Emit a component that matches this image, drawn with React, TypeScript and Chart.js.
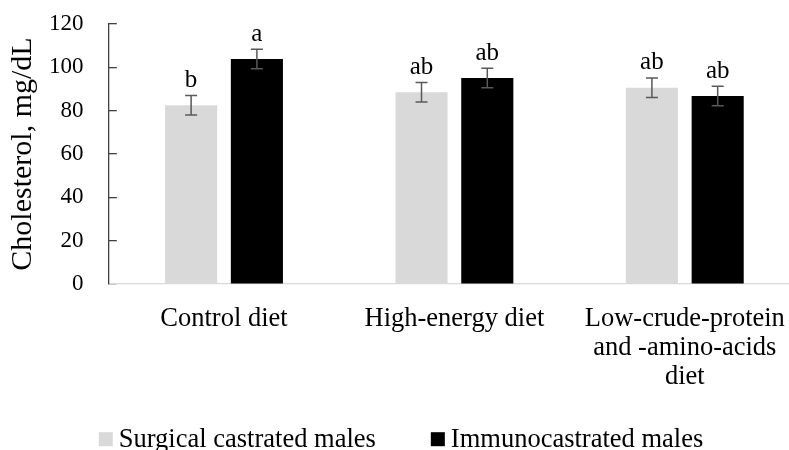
import React, { useEffect, useRef } from "react";
import { Chart, registerables } from "chart.js";

Chart.register(...registerables);

const categories = [
  ["Control diet"],
  ["High-energy diet"],
  ["Low-crude-protein", "and -amino-acids", "diet"],
];
const seriesNames = ["Surgical castrated males", "Immunocastrated males"];
const surgical = [82.5, 88.5, 90.6];
const immuno = [103.8, 95.1, 86.8];
const surgicalErr = [4.5, 4.5, 4.5];
const immunoErr = [4.5, 4.5, 4.5];
const surgicalLetters = ["b", "ab", "ab"];
const immunoLetters = ["a", "ab", "ab"];
const yMin = 0;
const yMax = 120;
const yStep = 20;
const colors = ["#d9d9d9", "#000000"];

const FONT = "'Liberation Serif', 'Times New Roman', serif";

const errs = [surgicalErr, immunoErr];
const letters = [surgicalLetters, immunoLetters];

const errorBarPlugin = {
  id: "errorBars",
  afterDatasetsDraw(chart: any) {
    const ctx = chart.ctx;
    const y = chart.scales.y;
    ctx.save();
    chart.data.datasets.forEach((ds: any, i: number) => {
      const meta = chart.getDatasetMeta(i);
      meta.data.forEach((bar: any, j: number) => {
        const v = ds.data[j];
        const e = errs[i][j];
        const yTop = y.getPixelForValue(v + e);
        const yBot = y.getPixelForValue(v - e);
        const x = bar.x;
        ctx.strokeStyle = "#595959";
        ctx.lineWidth = 1.5;
        ctx.beginPath();
        ctx.moveTo(x, yTop);
        ctx.lineTo(x, yBot);
        ctx.moveTo(x - 6, yTop);
        ctx.lineTo(x + 6, yTop);
        ctx.moveTo(x - 6, yBot);
        ctx.lineTo(x + 6, yBot);
        ctx.stroke();
        ctx.fillStyle = "#000";
        ctx.font = `25px ${FONT}`;
        ctx.textAlign = "center";
        ctx.textBaseline = "alphabetic";
        ctx.fillText(letters[i][j], x, yTop - 8.5);
      });
    });
    ctx.restore();
  },
};

const legendPlugin = {
  id: "customLegend",
  afterDraw(chart: any) {
    const ctx = chart.ctx;
    ctx.save();
    ctx.font = `26.5px ${FONT}`;
    const box = 14;
    const boxGap = 6;
    const itemGap = 55;
    const widths = chart.data.datasets.map((ds: any) => ctx.measureText(ds.label).width);
    const total =
      widths.reduce((a: number, w: number) => a + box + boxGap + w, 0) + itemGap * (widths.length - 1);
    const centerX = 401;
    const baseline = chart.height - 3.3;
    let x = centerX - total / 2;
    chart.data.datasets.forEach((ds: any, i: number) => {
      ctx.fillStyle = ds.backgroundColor;
      ctx.fillRect(x, baseline - 14.5, box, box);
      ctx.fillStyle = "#000";
      ctx.textAlign = "left";
      ctx.textBaseline = "alphabetic";
      ctx.fillText(ds.label, x + box + boxGap, baseline);
      x += box + boxGap + widths[i] + itemGap;
    });
    ctx.restore();
  },
};

export default function App() {
  const ref = useRef<HTMLCanvasElement | null>(null);
  useEffect(() => {
    if (!ref.current) return;
    const chart = new Chart(ref.current, {
      type: "bar",
      data: {
        labels: categories,
        datasets: [
          {
            label: seriesNames[0],
            data: surgical,
            backgroundColor: colors[0],
            categoryPercentage: 0.571,
            barPercentage: 0.792,
          },
          {
            label: seriesNames[1],
            data: immuno,
            backgroundColor: colors[1],
            categoryPercentage: 0.571,
            barPercentage: 0.792,
          },
        ],
      },
      options: {
        responsive: false,
        animation: false,
        layout: { padding: { top: 24, right: 0, bottom: 37, left: 0 } },
        plugins: {
          legend: { display: false },
          tooltip: { enabled: false },
        },
        scales: {
          x: {
            afterFit: (scale: any) => {
              scale.paddingLeft = 0;
              scale.paddingRight = 0;
            },
            grid: { display: false, drawTicks: false },
            border: { display: true, color: "#d9d9d9", width: 1.2 },
            ticks: {
              color: "#000",
              font: { family: FONT, size: 26.5, lineHeight: 1.094 },
              padding: 21,
              maxRotation: 0,
              autoSkip: false,
            },
          },
          y: {
            min: yMin,
            max: yMax,
            afterFit: (scale: any) => {
              scale.width = 108.8;
              scale.paddingTop = 0;
              scale.paddingBottom = 0;
            },
            grid: {
              display: true,
              drawOnChartArea: false,
              drawTicks: true,
              tickLength: -8,
              tickColor: "#404040",
              lineWidth: 1.3,
            },
            border: { display: true, color: "#404040", width: 1.3 },
            ticks: {
              stepSize: yStep,
              color: "#000",
              font: { family: FONT, size: 23 },
              padding: 33.3,
            },
            title: {
              display: true,
              text: "Cholesterol, mg/dL",
              color: "#000",
              font: { family: FONT, size: 30, lineHeight: 1.2 },
              padding: { top: 5.4, bottom: 0 },
            },
          },
        },
      },
      plugins: [errorBarPlugin, legendPlugin],
    });
    return () => chart.destroy();
  }, []);
  return (
    <div
      style={{
        position: "fixed",
        left: 0,
        top: 0,
        width: 789,
        height: 450,
        overflow: "hidden",
        background: "#fff",
      }}
    >
      <canvas ref={ref} width={800} height={450} style={{ display: "block" }} />
    </div>
  );
}
